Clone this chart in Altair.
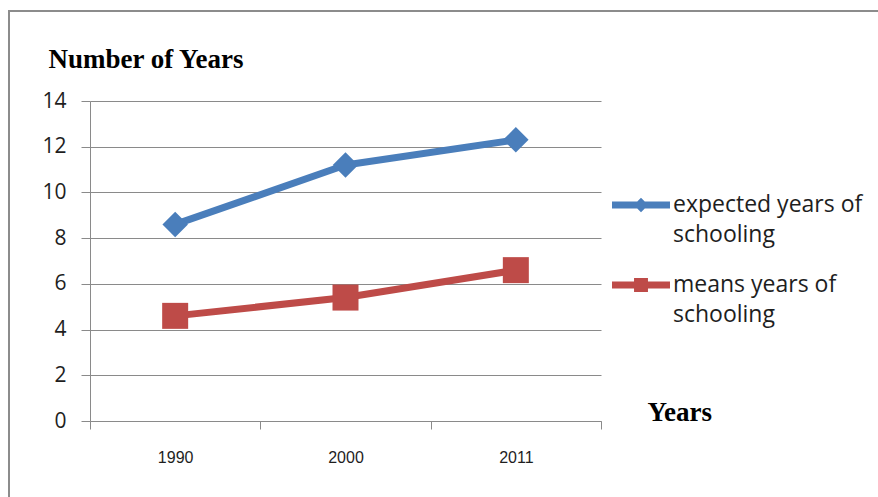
import altair as alt
import pandas as pd

years = ["1990", "2000", "2011"]
expected = [8.6, 11.2, 12.3]
means = [4.6, 5.4, 6.6]
series_names = ["expected years of schooling", "means years of schooling"]
colors = ["#4A7EBB", "#BE4B48"]
y_ticks = [0, 2, 4, 6, 8, 10, 12, 14]

rows = []
for y, e, m in zip(years, expected, means):
    rows.append({"year": y, "value": e, "series": series_names[0]})
    rows.append({"year": y, "value": m, "series": series_names[1]})
df = pd.DataFrame(rows)

GRID = "#8a8a8a"
TXT = "#1e1e1e"

x_enc = alt.X(
    "year:O",
    sort=years,
    scale=alt.Scale(paddingInner=0, paddingOuter=0),
    axis=alt.Axis(
        title="Years",
        titleFont="Liberation Serif",
        titleFontSize=27,
        titleFontWeight="bold",
        titleColor="#000000",
        titleAngle=0,
        titleAlign="left",
        titleBaseline="alphabetic",
        titleX=557,
        titleY=-1,
        labelAngle=0,
        labelFont="Liberation Sans",
        labelFontSize=16,
        labelColor=TXT,
        labelPadding=20,
        tickBand="extent",
        tickSize=8,
        tickColor=GRID,
        domainColor=GRID,
        grid=False,
    ),
)
y_enc = alt.Y(
    "value:Q",
    scale=alt.Scale(domain=[0, 14], nice=False),
    axis=alt.Axis(
        title="Number of Years",
        titleFont="Liberation Serif",
        titleFontSize=27,
        titleFontWeight="bold",
        titleColor="#000000",
        titleAngle=0,
        titleAlign="left",
        titleBaseline="alphabetic",
        titleX=-42,
        titleY=-34,
        values=y_ticks,
        labelFont="Open Sans",
        labelFontSize=21,
        labelColor=TXT,
        labelPadding=15,
        tickSize=9,
        tickColor=GRID,
        domainColor=GRID,
        gridColor=GRID,
        grid=True,
    ),
)

base = alt.Chart(df)

frame = alt.Chart(pd.DataFrame({"a": [0]})).mark_rect(
    fill=None, stroke="#8c8c8c", strokeWidth=2
).encode(
    x=alt.value(-81), x2=alt.value(820), y=alt.value(-90), y2=alt.value(420)
)

layers = [frame]
shapes = ["diamond", "square"]
sizes = [650, 676]
for name, col, shp, sz in zip(series_names, colors, shapes, sizes):
    sub = base.transform_filter(alt.datum.series == name)
    layers.append(
        sub.mark_line(strokeWidth=7, strokeCap="round", strokeJoin="round", color=col).encode(
            x=x_enc, y=y_enc
        )
    )
    layers.append(
        sub.mark_point(shape=shp, filled=True, size=sz, opacity=1, color=col).encode(
            x=x_enc, y=y_enc
        )
    )

diamond_line = "M-1,-0.12L1,-0.12L1,0.12L-1,0.12Z M0,-0.25L0.25,0L0,0.25L-0.25,0Z"
square_line = "M-1,-0.12L1,-0.12L1,0.12L-1,0.12Z M-0.24,-0.24L0.24,-0.24L0.24,0.24L-0.24,0.24Z"

leg = alt.Legend(
    title=None,
    orient="none",
    legendX=522,
    legendY=75,
    symbolSize=3364,
    symbolOpacity=1,
    symbolStrokeWidth=0,
    labelFont="Open Sans",
    labelFontSize=23,
    labelColor=TXT,
    labelOffset=3,
    labelLimit=300,
    rowPadding=9,
    padding=0,
    labelExpr="[replace(datum.label, ' schooling', ''), 'schooling']",
)

legend_layer = base.mark_point(filled=True, size=1, opacity=0.001).encode(
    x=x_enc,
    y=y_enc,
    color=alt.Color("series:N", scale=alt.Scale(domain=series_names, range=colors), legend=leg),
    shape=alt.Shape(
        "series:N",
        scale=alt.Scale(domain=series_names, range=[diamond_line, square_line]),
        legend=leg,
    ),
)
layers.append(legend_layer)

chart = alt.layer(*layers).properties(
    width=511,
    height=320,
    autosize=alt.AutoSizeParams(type="none"),
    padding={"left": 90, "top": 101, "right": 277, "bottom": 76},
    background="white",
).configure(
    style={"guide-label": {"lineHeight": 30}},
    view=alt.ViewConfig(stroke=None),
)

chart.save("out.html", embed_options={"renderer": "svg", "actions": False})
